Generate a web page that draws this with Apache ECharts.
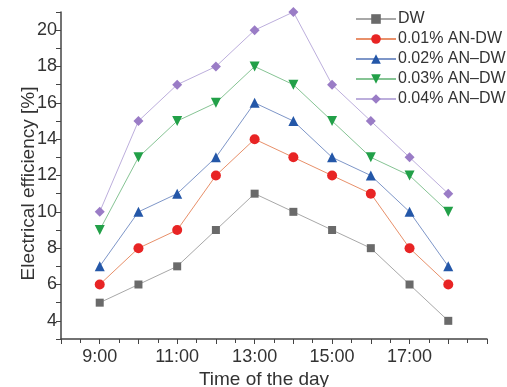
<!DOCTYPE html>
<html>
<head>
<meta charset="utf-8">
<script src="https://cdn.jsdelivr.net/npm/echarts@6/dist/echarts.min.js"></script>
<style>
  html, body { margin: 0; padding: 0; background: #fff; }
</style>
</head>
<body>
<div id="chart" style="width:507px;height:387px;"></div>
<script>
// hours of the day (x) and efficiency values per series
var hours = [9, 10, 11, 12, 13, 14, 15, 16, 17, 18];
var seriesNames = ['DW', '0.01% AN-DW', '0.02% AN\u2013DW', '0.03% AN\u2013DW', '0.04% AN\u2013DW'];
var dw    = [5, 6, 7, 9, 11, 10, 9, 8, 6, 4];
var an001 = [6, 8, 9, 12, 14, 13, 12, 11, 8, 6];
var an002 = [7, 10, 11, 13, 16, 15, 13, 12, 10, 7];
var an003 = [9, 13, 15, 16, 18, 17, 15, 13, 12, 10];
var an004 = [10, 15, 17, 18, 20, 21, 17, 15, 13, 11];

var chart = echarts.init(document.getElementById('chart'));

function pairs(vals) {
  return hours.map(function (h, i) { return [h, vals[i]]; });
}

function mkSeries(name, vals, symbol, rot, markColor, lineColor) {
  return {
    name: name,
    type: 'line',
    data: pairs(vals),
    symbol: symbol,
    symbolRotate: rot,
    symbolSize: symbol === 'rect' ? 8 : 10,
    itemStyle: { color: markColor },
    lineStyle: { color: lineColor, width: 1 },
    emphasis: { disabled: true },
    z: 2
  };
}

var font = 'Liberation Sans, Arial, sans-serif';
var axisCol = '#444';

var option = {
  backgroundColor: '#fff',
  animation: false,
  grid: { left: 61, right: 20, top: 12, bottom: 48, outerBoundsMode: 'none' },
  legend: {
    orient: 'vertical',
    left: 355,
    top: 11,
    padding: 0,
    itemWidth: 40,
    itemHeight: 12,
    itemGap: 4,
    textStyle: { fontFamily: font, fontSize: 16, color: '#333', padding: [0, 0, 0, -3] },
    data: seriesNames
  },
  xAxis: {
    type: 'value',
    min: 8,
    max: 19,
    interval: 1,
    name: 'Time of the day',
    nameLocation: 'middle',
    nameGap: 31,
    nameMoveOverlap: false,
    nameTextStyle: { fontFamily: font, fontSize: 19, color: '#333', padding: [0, 20, 0, 0] },
    axisLine: { lineStyle: { color: axisCol, width: 1.5 } },
    axisTick: { length: 5, lineStyle: { color: axisCol } },
    minorTick: { show: true, splitNumber: 2, length: 4, lineStyle: { color: axisCol } },
    splitLine: { show: false },
    axisLabel: {
      fontFamily: font, fontSize: 18, color: '#333', margin: 9,
      formatter: function (v) { return v % 2 === 1 && v < 19 ? v + ':00' : ''; }
    }
  },
  yAxis: {
    type: 'value',
    min: 3,
    max: 21,
    interval: 1,
    name: 'Electrical efficiency [%]',
    nameLocation: 'middle',
    nameGap: 23,
    nameMoveOverlap: false,
    nameTextStyle: { fontFamily: font, fontSize: 19, color: '#333', padding: [0, 16, 0, 0] },
    axisLine: { show: true, lineStyle: { color: axisCol, width: 1.5 } },
    axisTick: { show: true, length: 5, lineStyle: { color: axisCol } },
    splitLine: { show: false },
    axisLabel: {
      fontFamily: font, fontSize: 18, color: '#333', margin: 4,
      formatter: function (v) { return v % 2 === 0 ? v : ''; }
    }
  },
  series: [
    mkSeries(seriesNames[0], dw, 'rect', 0, '#6a6a6a', '#a8a8a8'),
    mkSeries(seriesNames[1], an001, 'circle', 0, '#e82424', '#e8906a'),
    mkSeries(seriesNames[2], an002, 'triangle', 0, '#2457a8', '#7e96c8'),
    mkSeries(seriesNames[3], an003, 'triangle', 180, '#22a048', '#86c494'),
    mkSeries(seriesNames[4], an004, 'diamond', 0, '#9a7cc6', '#bcaedc')
  ]
};

chart.setOption(option);
</script>
</body>
</html>
